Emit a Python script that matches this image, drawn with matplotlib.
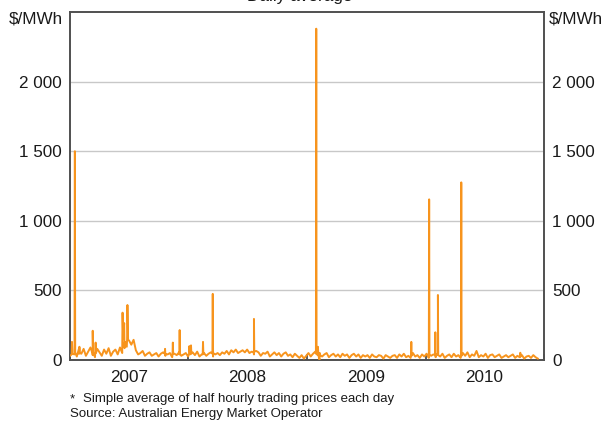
import matplotlib
matplotlib.use("Agg")
import matplotlib.pyplot as plt
import matplotlib.dates as mdates
import matplotlib.ticker as mticker
import pandas as pd

plt.rcParams['font.family'] = ['Liberation Sans', 'DejaVu Sans']

# weekly readings, starting Monday 1 Jan 2007 ($/MWh)
weekly_start = "2007-01-01"
weekly_prices = [
    # 2007
    30, 75, 40, 25, 85, 45, 80, 30, 60, 90, 35, 20, 80,
    55, 30, 75, 45, 85, 30, 60, 75, 40, 90, 50, 85, 95,
    140, 110, 145, 70, 40, 50, 65, 30, 45, 55, 30, 40, 50,
    25, 45, 55, 30, 40, 50, 20, 45, 35, 55, 30, 40, 50,
    # 2008
    25, 45, 55, 35, 60, 25, 40, 50, 30, 45, 55, 25, 40,
    50, 35, 55, 45, 65, 40, 70, 55, 75, 50, 60, 70, 55,
    75, 50, 60, 40, 65, 55, 30, 50, 45, 60, 25, 40, 55,
    35, 50, 25, 45, 55, 30, 40, 20, 45, 30, 15, 35, 10,
    # 2009
    30, 50, 25, 45, 60, 35, 50, 25, 40, 50, 20, 35, 45,
    25, 40, 20, 45, 30, 40, 15, 35, 45, 25, 40, 15, 35,
    25, 35, 15, 40, 25, 20, 35, 30, 10, 35, 25, 15, 30,
    35, 15, 40, 25, 45, 20, 30, 15, 50, 25, 35, 15, 40,
    # 2010
    25, 45, 15, 30, 40, 20, 35, 25, 45, 15, 30, 40, 20,
    45, 25, 35, 15, 50, 30, 55, 20, 40, 30, 65, 20, 35,
    25, 45, 15, 35, 40, 20, 30, 40, 15, 25, 35, 20, 30,
    40, 15, 30, 20, 35, 10, 25, 30, 15, 35, 20, 10,
]

# single-day spikes with the days around them
spike_dates = [
    "2007-01-06", "2007-01-07", "2007-01-08",
    "2007-01-15", "2007-01-16", "2007-01-17",
    "2007-01-29", "2007-01-30", "2007-01-31",
    "2007-03-11", "2007-03-12", "2007-03-13",
    "2007-03-20", "2007-03-21", "2007-03-22",
    "2007-06-11", "2007-06-12", "2007-06-14", "2007-06-17",
    "2007-06-19", "2007-06-26", "2007-06-27", "2007-06-29",
    "2007-10-20", "2007-10-21", "2007-10-22",
    "2007-11-13", "2007-11-14", "2007-11-15",
    "2007-12-04", "2007-12-05", "2007-12-06",
    "2008-01-03", "2008-01-04", "2008-01-06", "2008-01-09", "2008-01-10",
    "2008-02-14", "2008-02-15", "2008-02-16",
    "2008-03-15", "2008-03-16", "2008-03-17",
    "2008-07-20", "2008-07-21", "2008-07-22",
    "2009-01-28", "2009-01-29", "2009-01-30", "2009-02-03",
    "2009-02-05", "2009-02-08", "2009-02-10",
    "2009-11-17", "2009-11-18", "2009-11-19",
    "2010-01-11", "2010-01-12", "2010-01-13",
    "2010-01-30", "2010-01-31", "2010-02-01",
    "2010-02-07", "2010-02-08", "2010-02-09",
    "2010-04-20", "2010-04-21", "2010-04-22",
    "2010-10-19", "2010-10-20", "2010-10-21",
]
spike_prices = [
    40, 130, 45,
    50, 1500, 55,
    45, 95, 50,
    50, 210, 60,
    55, 125, 50,
    80, 340, 150, 265,
    130, 150, 395, 145,
    45, 80, 45,
    40, 125, 45,
    40, 215, 45,
    45, 100, 40, 105, 45,
    40, 130, 45,
    45, 475, 50,
    55, 295, 60,
    45, 2380, 60, 95,
    30, 3, 35,
    35, 130, 30,
    35, 1154, 40,
    35, 199, 40,
    40, 467, 35,
    30, 1276, 30,
    25, 52, 25,
]

weeks = pd.date_range(weekly_start, periods=len(weekly_prices), freq="7D")
prices = pd.concat([
    pd.Series(weekly_prices, index=weeks),
    pd.Series(spike_prices, index=pd.to_datetime(spike_dates)),
]).sort_index(kind="stable")

W, H = 605, 422
fig = plt.figure(figsize=(W / 100, H / 100), dpi=100)
ax = fig.add_axes([70 / W, 1 - 360 / H, 474 / W, 348 / H])

ax.plot(prices.index, prices.values, color="#F7941D", lw=1.4, zorder=3)

ax.set_ylim(0, 2500)
ax.set_xlim(pd.Timestamp("2007-01-01"), pd.Timestamp("2011-01-01"))

yticks = [0, 500, 1000, 1500, 2000]
ax.set_yticks(yticks)
ax.yaxis.set_major_formatter(mticker.FuncFormatter(lambda v, p: f"{int(v):,}".replace(",", " ")))
for v in yticks[1:]:
    ax.axhline(v, color="#C8C8C8", lw=1.0, zorder=1)

ax.tick_params(axis="y", which="both", length=0, labelsize=12.3, colors="#1a1a1a",
               left=True, right=True, labelleft=True, labelright=True, pad=6)

ax.xaxis.set_major_locator(mdates.YearLocator())
ax.xaxis.set_major_formatter(mticker.NullFormatter())
ax.xaxis.set_minor_locator(mdates.MonthLocator(bymonth=7, bymonthday=1))
ax.xaxis.set_minor_formatter(mdates.DateFormatter("%Y"))
ax.tick_params(axis="x", which="major", direction="in", length=4, width=1.2, color="#404040")
ax.tick_params(axis="x", which="minor", length=0, pad=7, labelsize=12.3, labelcolor="#1a1a1a")

for sp in ax.spines.values():
    sp.set_color("#505050")
    sp.set_linewidth(1.4)

fig.text(63 / W, 1 - 19 / H, "$/MWh", ha="right", va="center", fontsize=12.3, color="#1a1a1a")
fig.text(549 / W, 1 - 19 / H, "$/MWh", ha="left", va="center", fontsize=12.3, color="#1a1a1a")
# title sits mostly above the visible area, as in the reference
fig.text(303 / W, 1 - 1 / H, "Daily average*", ha="center", va="baseline", fontsize=12.3, color="#1a1a1a")

fig.text(70 / W, 1 - 399 / H, "*", ha="left", va="center", fontsize=9.5, color="#1a1a1a")
fig.text(83 / W, 1 - 399 / H, "Simple average of half hourly trading prices each day",
         ha="left", va="center", fontsize=9.5, color="#1a1a1a")
fig.text(70 / W, 1 - 414 / H, "Source: Australian Energy Market Operator",
         ha="left", va="center", fontsize=9.5, color="#1a1a1a")

fig.savefig("out.png", dpi=100)
